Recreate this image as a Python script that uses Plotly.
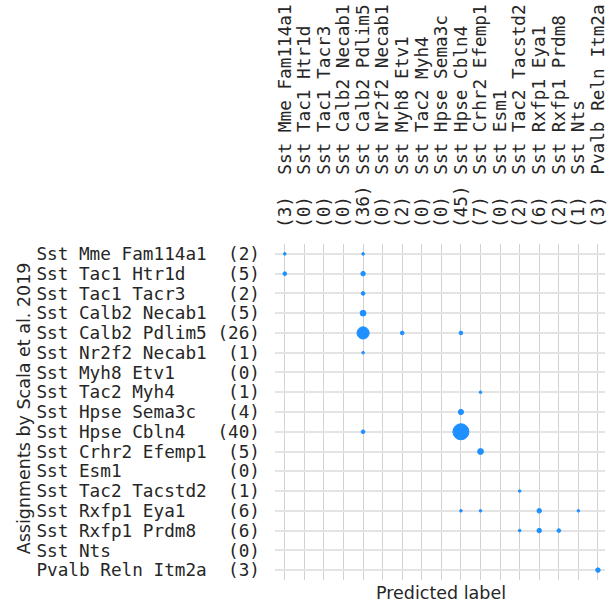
import plotly.graph_objects as go

# Cell types, in the same order for both axes
cell_types = [
    "Sst Mme Fam114a1",
    "Sst Tac1 Htr1d",
    "Sst Tac1 Tacr3",
    "Sst Calb2 Necab1",
    "Sst Calb2 Pdlim5",
    "Sst Nr2f2 Necab1",
    "Sst Myh8 Etv1",
    "Sst Tac2 Myh4",
    "Sst Hpse Sema3c",
    "Sst Hpse Cbln4",
    "Sst Crhr2 Efemp1",
    "Sst Esm1",
    "Sst Tac2 Tacstd2",
    "Sst Rxfp1 Eya1",
    "Sst Rxfp1 Prdm8",
    "Sst Nts",
    "Pvalb Reln Itm2a",
]

# Non-zero cells of the confusion matrix: (true index, predicted index, count)
true_idx = [0, 0, 1, 1, 2, 3, 4, 4, 4, 5, 7, 8, 9, 9, 10, 12, 13, 13, 13, 13, 14, 14, 14, 16]
pred_idx = [0, 4, 0, 4, 4, 4, 4, 6, 9, 4, 10, 9, 4, 9, 10, 12, 9, 10, 13, 15, 12, 13, 14, 16]
counts   = [1, 1, 2, 3, 2, 5, 22, 2, 2, 1, 1, 4, 2, 38, 5, 1, 1, 1, 3, 1, 1, 3, 2, 3]

n = len(cell_types)
row_totals = [0] * n
col_totals = [0] * n
for r, c, v in zip(true_idx, pred_idx, counts):
    row_totals[r] += v
    col_totals[c] += v

NB = "\u00a0"
row_labels = [(f"{name:<16}" + f"({t})".rjust(5)).replace(" ", NB)
              for name, t in zip(cell_types, row_totals)]
col_labels = [(f"({t})".ljust(5) + name).replace(" ", NB)
              for name, t in zip(cell_types, col_totals)]

TEXT = "#262626"
MONO = "DejaVu Sans Mono"
SANS = "DejaVu Sans"
BLUE = "#1e90ff"

fig = go.Figure(
    go.Scatter(
        x=pred_idx,
        y=true_idx,
        mode="markers",
        marker=dict(
            size=counts,
            sizemode="area",
            sizeref=0.296,
            color=BLUE,
            line=dict(width=1, color=BLUE),
            opacity=1,
        ),
        hoverinfo="skip",
    )
)

fig.update_layout(
    width=608,
    height=604,
    margin=dict(l=275, r=0, t=244, b=24, pad=0),
    paper_bgcolor="white",
    plot_bgcolor="white",
    showlegend=False,
    xaxis=dict(
        side="top",
        range=[-0.5, 16.36],
        tickvals=list(range(n)),
        ticktext=col_labels,
        tickangle=-90,
        tickfont=dict(family=MONO, size=17.7, color=TEXT),
        ticks="",
        ticklabelstandoff=15,
        ticklabeloverflow="allow",
        showgrid=True,
        gridcolor="#d2d2d2",
        gridwidth=1,
        zeroline=False,
        showline=False,
        fixedrange=True,
    ),
    yaxis=dict(
        range=[16.5, -0.5],
        tickvals=list(range(n)),
        ticktext=row_labels,
        tickfont=dict(family=MONO, size=17.7, color=TEXT),
        ticks="",
        ticklabelstandoff=14,
        ticklabeloverflow="allow",
        showgrid=True,
        gridcolor="#e4e4e4",
        gridwidth=1.6,
        zeroline=False,
        showline=False,
        fixedrange=True,
    ),
    annotations=[
        dict(
            text="Predicted label",
            xref="paper", yref="paper",
            x=(442.5 - 275) / 333, y=-(593 - 580) / 336,
            xanchor="center", yanchor="middle",
            showarrow=False,
            font=dict(family=SANS, size=17.5, color=TEXT),
        ),
        dict(
            text="Assignments by Scala et al. 2019",
            xref="paper", yref="paper",
            x=-(275 - 22) / 333, y=(580 - 408) / 336,
            xanchor="center", yanchor="middle",
            textangle=-90,
            showarrow=False,
            font=dict(family=SANS, size=17.5, color=TEXT),
        ),
    ],
)

fig.write_html("out.html")
